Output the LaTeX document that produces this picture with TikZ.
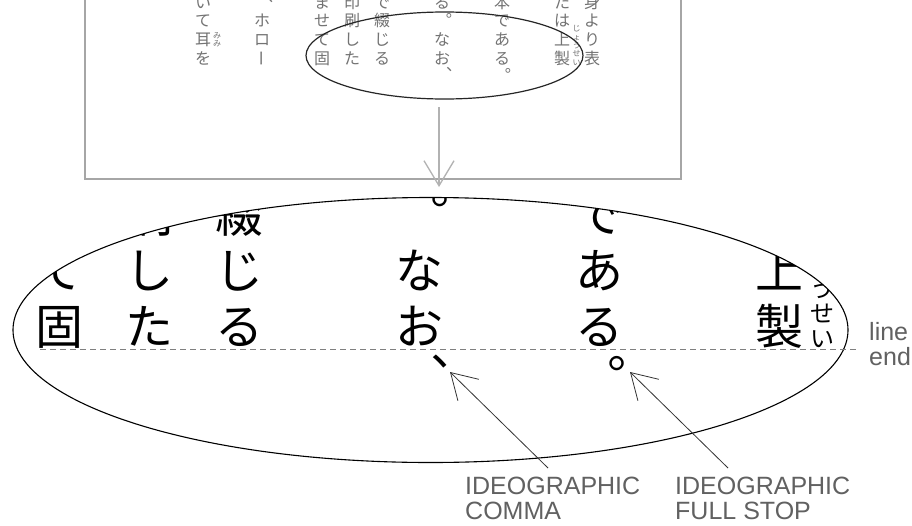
\documentclass[tikz,border=0pt]{standalone}
\usepackage{fontspec}
\setmainfont{Liberation Sans}
\newfontfamily\jpfont{Noto Sans CJK JP}
\usetikzlibrary{arrows.meta,shapes.geometric}

\tikzset{
  jc/.style={font=\jpfont\fontsize{16}{16}\selectfont, inner sep=0pt, outer sep=0pt,
             text height=14.08pt, text depth=1.92pt, anchor=center},
  rbs/.style={font=\jpfont\fontsize{8}{8}\selectfont, inner sep=0pt, outer sep=0pt,
             text height=7.04pt, text depth=0.96pt, anchor=center},
  lab/.style={font=\fontsize{25}{25}\selectfont, text=black!62, inner sep=0pt, align=left, anchor=north west},
  boxline/.style={draw=black!35, line width=1.6pt},
  lensline/.style={draw=black!85, line width=1.2pt},
  bigarrow/.style={draw=black!30, line width=1.5pt, -{Straight Barb[length=25pt,width=30pt,line width=1.3pt]}},
  labarrow/.style={draw=black!80, line width=0.8pt, -{Straight Barb[length=25pt,width=30pt,line width=0.8pt]}},
  baseline dash/.style={draw=black!50, line width=0.8pt, dash pattern=on 6pt off 4pt},
}

% name, x, row, character
\newcommand\jch[4]{\node[jc] (#1) at (#2,{2+18.667*#3}) {#4};}
% name, x, y, character (free position)
\newcommand\jpx[4]{\node[jc] (#1) at (#2,#3) {#4};}
% name, x, y, ruby character
\newcommand\rbch[4]{\node[rbs] (#1) at (#2,#3) {#4};}

% columns that lie under the lens
\newcommand\jtextlens{%
 \jch{b1}{562}{0}{た}\jch{b2}{562}{1}{は}\jch{b3}{562}{2}{上}\jch{b4}{562}{3}{製}
 \rbch{b5}{576.5}{28.8}{じ}\rbch{b6}{576.5}{37.1}{ょ}\rbch{b7}{576.5}{45.4}{う}%
 \rbch{b8}{576.5}{53.7}{せ}\rbch{b9}{576.5}{62}{い}
 \jch{c1}{502}{0}{本}\jch{c2}{502}{1}{で}\jch{c3}{502}{2}{あ}\jch{c4}{502}{3}{る}\jpx{c5}{503}{75}{︒}
 \jch{d1}{442}{0}{る}\jpx{d2}{444}{20.3}{︒}\jch{d3}{442}{2}{な}\jch{d4}{442}{3}{お}\jpx{d5}{444.3}{74.7}{︑}
 \jch{e1}{382}{0}{で}\jch{e2}{382}{1}{綴}\jch{e3}{382}{2}{じ}\jch{e4}{382}{3}{る}
 \jch{f1}{352}{0}{印}\jch{f2}{352}{1}{刷}\jch{f3}{352}{2}{し}\jch{f4}{352}{3}{た}
 \jch{g1}{322}{0}{ま}\jch{g2}{322}{1}{せ}\jch{g3}{322}{2}{て}\jch{g4}{322}{3}{固}
}
% columns outside the lens
\newcommand\jtextrest{%
 \jch{a1}{592}{0}{身}\jch{a2}{592}{1}{よ}\jch{a3}{592}{2}{り}\jch{a4}{592}{3}{表}
 \jpx{h0}{265.3}{5.7}{︑}
 \jch{h1}{262}{1}{ホ}\jch{h2}{262}{2}{ロ}\node[jc,rotate=-90] (h3) at (262,58) {ー};
 \jch{i1}{203}{0}{い}\jch{i2}{203}{1}{て}\jch{i3}{203}{2}{耳}\jch{i4}{203}{3}{を}
 \rbch{i5}{217}{35}{み}\rbch{i6}{217}{43}{み}
}

\begin{document}
\begin{tikzpicture}[x=1pt,y=-1pt]
\useasboundingbox (0,0) rectangle (912,525);
\fill[white] (0,0) rectangle (912,525);

% page frame (top edge outside the picture)
\draw[boxline] (85,-20) -- (85,179) -- (681,179) -- (681,-20);

% small text on the page
\begin{scope}[name prefix=s-, every node/.append style={text=black!55}]
  \jtextlens
  \jtextrest
\end{scope}

% small lens
\node[lensline, draw, ellipse, minimum width=277pt, minimum height=87pt, inner sep=0pt] (lens) at (444.5,55.5) {};

% magnified text
\begin{scope}
  \clip (430.5,330) ellipse [x radius=417.5pt, y radius=132.5pt];
  \begin{scope}[shift={(-907,152)}, scale=3, transform shape, name prefix=b-,
                every node/.append style={text=black}]
    \jtextlens
  \end{scope}
\end{scope}

% big lens
\node[draw=black, line width=1.1pt, ellipse, minimum width=835pt, minimum height=265pt, inner sep=0pt] (biglens) at (430.5,330) {};

% magnify arrow
\coordinate (m0) at (439,107);
\coordinate (m1) at (439,187);
\draw[bigarrow] (m0) -- (m1);

% line end
\coordinate (d0) at (40,349);
\coordinate (d1) at (858,349);
\draw[baseline dash] (d0) -- (d1);
\node[lab] (le) at (869,322.5) {line\\end};

% labels
\node[lab] (lc) at (465,476.5) {IDEOGRAPHIC\\COMMA};
\node[lab] (lf) at (675,476.5) {IDEOGRAPHIC\\FULL STOP};
\coordinate (c0) at (548,468);
\coordinate (c1) at (450,372);
\coordinate (f0) at (728,468);
\coordinate (f1) at (630,372);
\draw[labarrow] (c0) -- (c1);
\draw[labarrow] (f0) -- (f1);
\end{tikzpicture}
\end{document}
